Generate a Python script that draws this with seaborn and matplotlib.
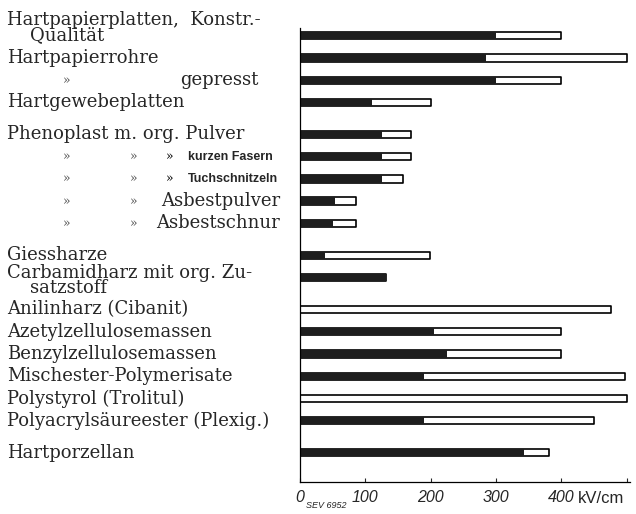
import numpy as np
import pandas as pd
import seaborn as sns
import matplotlib.pyplot as plt
import matplotlib.transforms as mtransforms

labels = [
    "Hartpapierplatten,  Konstr.-\n    Qualität",
    "Hartpapierrohre",
    "» gepresst",
    "Hartgewebeplatten",
    "Phenoplast m. org. Pulver",
    "» » » kurzen Fasern",
    "» » » Tuchschnitzeln",
    "» » Asbestpulver",
    "» » Asbestschnur",
    "Giessharze",
    "Carbamidharz mit org. Zu-\n    satzstoff",
    "Anilinharz (Cibanit)",
    "Azetylzellulosemassen",
    "Benzylzellulosemassen",
    "Mischester-Polymerisate",
    "Polystyrol (Trolitul)",
    "Polyacrylsäureester (Plexig.)",
    "Hartporzellan",
]
# lower value (black) and upper value (white part end), kV/cm
low = [300, 285, 300, 110, 125, 125, 125, 53, 50, 38, 132, 0, 205, 225, 190, 0, 190, 343]
high = [400, 500, 400, 200, 170, 170, 158, 86, 86, 199, 132, 476, 400, 400, 498, 500, 450, 381]
group = [0, 0, 0, 0, 1, 1, 1, 1, 1, 2, 2, 3, 3, 3, 3, 3, 3, 4]

ypos = np.arange(len(labels)) + 0.44 * np.array(group)
df = pd.DataFrame({"y": ypos, "low": low, "high": high, "label": labels})

sns.set_style("white")
plt.rcParams["font.family"] = ["DejaVu Serif"]

fig = plt.figure(figsize=(6.36, 5.14), dpi=100)
ax = fig.add_axes([300 / 636, 1 - 482 / 514, 330 / 636, 454 / 514])

sns.barplot(data=df, x="high", y="y", orient="h", native_scale=True, width=0.33,
            color="white", edgecolor="black", linewidth=1.2, saturation=1,
            errorbar=None, ax=ax)
sns.barplot(data=df, x="low", y="y", orient="h", native_scale=True, width=0.33,
            color="#1e1e1e", linewidth=0, saturation=1, errorbar=None, ax=ax)
for p in ax.patches:
    p.set_joinstyle("round")

ax.set_xlim(0, 505)
ax.set_ylim(ypos[-1] + 1.32, -0.35)
ax.set_xlabel("")
ax.set_ylabel("")
ax.set_yticks([])
ax.set_xticks([0, 100, 200, 300, 400, 500])
ax.set_xticklabels(["0", "100", "200", "300", "400", ""],
                   fontfamily="Liberation Sans", fontstyle="italic", fontsize=11.5)
ax.tick_params(axis="x", direction="in", length=3, width=0.8, pad=6, bottom=True)
sns.despine(ax=ax, top=True, right=True)
for s in ["left", "bottom"]:
    ax.spines[s].set_linewidth(0.9)
    ax.spines[s].set_color("black")

ax.annotate("kV/cm", xy=(400, 0), xycoords=("data", "axes fraction"),
            xytext=(12, -12), textcoords="offset points", ha="left", va="center",
            fontfamily="Liberation Sans", fontsize=12)
ax.annotate("SEV 6952", xy=(0, 0), xycoords=("data", "axes fraction"),
            xytext=(4, -17), textcoords="offset points", ha="left", va="center",
            fontfamily="Liberation Sans", fontstyle="italic", fontsize=6.5)

# row labels on the left
trans = mtransforms.blended_transform_factory(fig.transFigure, ax.transData)
px = lambda v: v / 636
for i, (y, lab) in enumerate(zip(ypos, labels)):
    if lab.startswith("»"):
        parts = lab.split()
        marks = parts.count("»")
        name = " ".join(p for p in parts if p != "»")
        cols = [63, 130, 166]
        for k in range(marks):
            small = marks == 3 and k == 2
            ax.text(px(cols[k]), y, "»", transform=trans, ha="left", va="center",
                    fontsize=9, color="black" if small else "#555555")
        if marks == 1:
            ax.text(px(180), y, name, transform=trans, ha="left", va="center", fontsize=13)
        elif marks == 2:
            ax.text(px(280), y, name, transform=trans, ha="right", va="center", fontsize=13)
        else:
            ax.text(px(188), y, name, transform=trans, ha="left", va="center",
                    fontsize=9, fontweight="bold", fontfamily="Liberation Sans")
    else:
        dy = 0.0
        if "\n" in lab:
            dy = -0.38 if i == 0 else 0.12
        ax.text(px(7), y + dy, lab, transform=trans, ha="left", va="center",
                fontsize=13, linespacing=0.8)

fig.savefig("out.png", dpi=100)
